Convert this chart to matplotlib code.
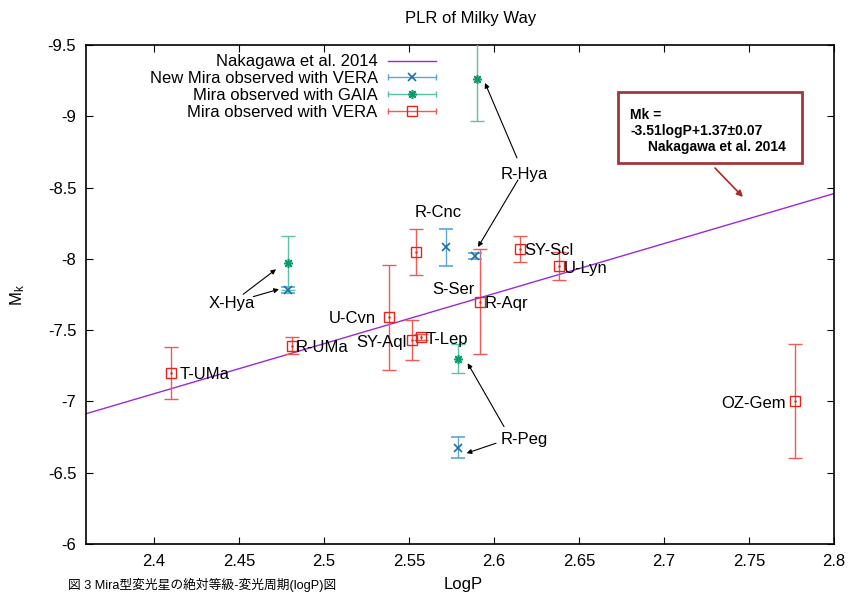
import matplotlib
matplotlib.use("Agg")
import matplotlib.pyplot as plt
from matplotlib.lines import Line2D
from matplotlib.patches import Rectangle
from matplotlib.legend_handler import HandlerBase
from matplotlib.ticker import FuncFormatter
import numpy as np

plt.rcParams['font.family'] = ['Liberation Sans', 'Noto Sans CJK JP', 'DejaVu Sans']
plt.rcParams['axes.unicode_minus'] = False
plt.rcParams['mathtext.default'] = 'regular'

# Mira observed with VERA (red squares)
vera_names = ['T-UMa', 'R-UMa', 'U-Cvn', 'SY-Aql', 'T-Lep', 'R-Cnc', 'R-Aqr', 'SY-Scl', 'U-Lyn', 'OZ-Gem']
vera_logp = [2.410, 2.481, 2.538, 2.552, 2.557, 2.554, 2.592, 2.615, 2.638, 2.777]
vera_mk = [-7.20, -7.39, -7.59, -7.43, -7.45, -8.05, -7.70, -8.07, -7.95, -7.00]
vera_err = [0.18, 0.06, 0.37, 0.14, 0.02, 0.16, 0.37, 0.09, 0.095, 0.40]

# New Mira observed with VERA (blue x)
new_logp = [2.479, 2.572, 2.589, 2.579]
new_mk = [-7.78, -8.08, -8.02, -6.675]
new_err = [0.02, 0.13, 0.02, 0.075]

# Mira observed with GAIA (green asterisk)
gaia_logp = [2.479, 2.590, 2.579]
gaia_mk = [-7.97, -9.26, -7.30]
gaia_err = [0.19, 0.29, 0.10]

# PLR of Nakagawa et al. 2014: Mk = -3.51 logP + 1.37
plr_slope = -3.51
plr_zero = 1.37

xticks = [2.4, 2.45, 2.5, 2.55, 2.6, 2.65, 2.7, 2.75, 2.8]
yticks = [-9.5, -9, -8.5, -8, -7.5, -7, -6.5, -6]

# star labels: text, x, y, ha
labels = [
    ('T-UMa', 2.4153, -7.19, 'left'),
    ('R-UMa', 2.4833, -7.38, 'left'),
    ('X-Hya', 2.4459, -7.688, 'center'),
    ('U-Cvn', 2.5306, -7.583, 'right'),
    ('SY-Aql', 2.5488, -7.416, 'right'),
    ('T-Lep', 2.5596, -7.437, 'left'),
    ('R-Cnc', 2.5673, -8.328, 'center'),
    ('S-Ser', 2.5761, -7.788, 'center'),
    ('R-Aqr', 2.5947, -7.686, 'left'),
    ('SY-Scl', 2.6181, -8.057, 'left'),
    ('U-Lyn', 2.6408, -7.935, 'left'),
    ('OZ-Gem', 2.7718, -6.984, 'right'),
    ('R-Hya', 2.6176, -8.592, 'center'),
    ('R-Peg', 2.6176, -6.732, 'center'),
]
# arrows: (tail x, tail y) -> (tip x, tip y)
arrows = [
    ((2.4525, -7.752), (2.4718, -7.927)),
    ((2.4584, -7.735), (2.4735, -7.787)),
    ((2.6135, -8.708), (2.5947, -9.234)),
    ((2.6141, -8.553), (2.5906, -8.083)),
    ((2.6059, -6.823), (2.5845, -7.268)),
    ((2.6012, -6.707), (2.5839, -6.637)),
]

RED, RED_E = '#e3261c', '#ef5a52'
BLUE, BLUE_E = '#1b6fae', '#5aa6d6'
GREEN, GREEN_E = '#0a9a6e', '#5cc3a0'
PURPLE = '#9a28dc'


class ErrKey:
    def __init__(self, color, ecolor, marker, ms, mew):
        self.color = color
        self.ecolor = ecolor
        self.marker = marker
        self.ms = ms
        self.mew = mew


class HandlerErrKey(HandlerBase):
    def create_artists(self, legend, h, xdescent, ydescent, width, height, fontsize, trans):
        y = height / 2 - ydescent
        x0 = -xdescent
        x1 = x0 + width
        line = Line2D([x0, x1], [y, y], color=h.ecolor, lw=1)
        caps = Line2D([x0, x1], [y, y], ls='none', marker='|', ms=5, mew=1, color=h.ecolor)
        mk = Line2D([(x0 + x1) / 2], [y], ls='none', marker=h.marker, ms=h.ms,
                    mew=h.mew, color=h.color, mfc='none')
        for a in (line, caps, mk):
            a.set_transform(trans)
        return [line, caps, mk]


fig = plt.figure(figsize=(8.54, 5.95), dpi=100)
ax = fig.add_axes([86 / 854, 1 - 544 / 595, 748 / 854, 499 / 595])

xs = np.array([2.36, 2.8])
plr_line, = ax.plot(xs, plr_slope * xs + plr_zero, color=PURPLE, lw=1.0, zorder=2)

ax.errorbar(vera_logp, vera_mk, yerr=vera_err, fmt='s', ms=6.5, mfc='none', mec=RED,
            mew=1.0, ecolor=RED_E, elinewidth=1.0, capsize=5, capthick=1.0, zorder=3)
ax.plot(vera_logp, vera_mk, ls='none', marker='.', ms=1.5, color=RED, zorder=4)
ax.errorbar(new_logp, new_mk, yerr=new_err, fmt='x', ms=6, mec=BLUE, mew=1.2,
            ecolor=BLUE_E, elinewidth=1.0, capsize=5, capthick=1.0, zorder=3)
ax.errorbar(gaia_logp, gaia_mk, yerr=gaia_err, fmt='none',
            ecolor=GREEN_E, elinewidth=1.0, capsize=5, capthick=1.0, zorder=3)
ax.plot(gaia_logp, gaia_mk, ls='none', marker=(8, 2, 0), ms=6.5, mew=1.1, color=GREEN, zorder=4)

for name, x, y, ha in labels:
    ax.text(x, y, name, ha=ha, va='center', fontsize=12, zorder=5)

for tail, tip in arrows:
    ax.annotate('', xy=tip, xytext=tail,
                arrowprops=dict(arrowstyle='-|>', color='black', lw=0.8,
                                mutation_scale=7, shrinkA=0, shrinkB=0))

# formula box
ax.add_patch(Rectangle((0.7112, 0.7635), 0.9572 - 0.7112, 0.9058 - 0.7635,
                       transform=ax.transAxes, fill=False, ec='#a3373b', lw=2.0,
                       clip_on=False, zorder=6))
ax.text(0.7273, 0.8600, 'Mk =', transform=ax.transAxes, fontsize=10, fontweight='bold', va='center')
ax.text(0.7273, 0.8285, '-3.51logP+1.37±0.07', transform=ax.transAxes, fontsize=10,
        fontweight='bold', va='center')
ax.text(0.7513, 0.7965, 'Nakagawa et al. 2014', transform=ax.transAxes, fontsize=10,
        fontweight='bold', va='center')
ax.annotate('', xy=(0.8783, 0.6954), xytext=(0.8409, 0.7535),
            xycoords='axes fraction', textcoords='axes fraction',
            arrowprops=dict(arrowstyle='-|>', color='#b3281e', lw=1.2,
                            mutation_scale=9, shrinkA=0, shrinkB=0))

# legend
handles = [plr_line,
           ErrKey(BLUE, BLUE_E, 'x', 6, 1.2),
           ErrKey(GREEN, GREEN_E, (8, 2, 0), 6.5, 1.1),
           ErrKey(RED, RED_E, 's', 6.5, 1.0)]
names = ['Nakagawa et al. 2014', 'New Mira observed with VERA',
         'Mira observed with GAIA', 'Mira observed with VERA']
ax.legend(handles, names, handler_map={ErrKey: HandlerErrKey()}, loc='upper right',
          bbox_to_anchor=(0.468, 0.981), frameon=False, markerfirst=False,
          fontsize=12, handlelength=2.9, handletextpad=0.6, labelspacing=0.11,
          borderpad=0, borderaxespad=0)

ax.set_xlim(2.36, 2.8)
ax.set_ylim(-6, -9.5)
ax.set_xticks(xticks)
ax.set_yticks(yticks)
ax.xaxis.set_major_formatter(FuncFormatter(lambda v, p: f'{v:g}'))
ax.yaxis.set_major_formatter(FuncFormatter(lambda v, p: f'{v:g}'))
ax.tick_params(direction='in', length=5, width=0.8, top=True, right=True,
               labelsize=12, pad=7)
for s in ax.spines.values():
    s.set_linewidth(1.2)

fig.text(471 / 854, 1 - 18 / 595, 'PLR of Milky Way', ha='center', va='center', fontsize=12)
fig.text(18 / 854, 1 - 295 / 595, 'M$_{k}$', rotation=90, ha='center', va='center', fontsize=12)
fig.text(463 / 854, 1 - 585 / 595, 'LogP', ha='center', va='center', fontsize=12)
fig.text(68 / 854, 1 - 585 / 595, '図 3 Mira型変光星の絶対等級-変光周期(logP)図',
         ha='left', va='center', fontsize=9.2,
         family=['Liberation Sans', 'Noto Sans CJK JP', 'DejaVu Sans'])

fig.savefig('out.png', dpi=100)
